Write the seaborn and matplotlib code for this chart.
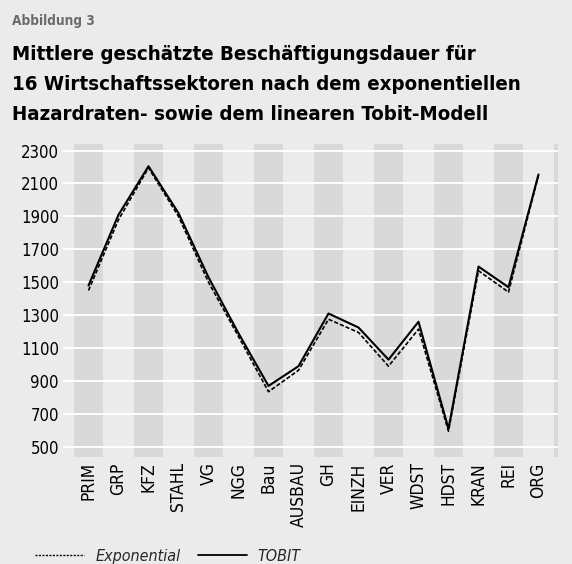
import matplotlib
matplotlib.use("Agg")
import matplotlib.pyplot as plt
import seaborn as sns
import pandas as pd
from matplotlib.lines import Line2D

sectors = ["PRIM", "GRP", "KFZ", "STAHL", "VG", "NGG", "Bau", "AUSBAU",
           "GH", "EINZH", "VER", "WDST", "HDST", "KRAN", "REI", "ORG"]
tobit = [1480, 1910, 2205, 1920, 1530, 1190, 870, 990,
         1310, 1225, 1030, 1260, 610, 1595, 1470, 2155]
exponential = [1450, 1880, 2195, 1900, 1500, 1170, 835, 965,
               1275, 1195, 990, 1215, 595, 1570, 1440, 2150]
y_ticks = [500, 700, 900, 1100, 1300, 1500, 1700, 1900, 2100, 2300]

BG = "#ebebeb"
BAND = "#d9d9d9"

sns.set_style("white", {"axes.facecolor": BG, "figure.facecolor": BG})
plt.rcParams["font.family"] = ["DejaVu Sans"]
plt.rcParams["font.stretch"] = "condensed"

W, H = 572, 564
fig = plt.figure(figsize=(W / 100, H / 100), dpi=100)
fig.patch.set_facecolor(BG)
ax = fig.add_axes([63 / W, 1 - 456.7 / H, (558 - 63) / W, (456.7 - 144) / H])
ax.set_facecolor(BG)

df = pd.DataFrame({
    "pos": list(range(len(sectors))) * 2,
    "value": tobit + exponential,
    "Modell": ["TOBIT"] * len(sectors) + ["Exponential"] * len(sectors),
})

for i in range(0, len(sectors) + 1, 2):
    ax.axvspan(i - 0.485, i + 0.485, color=BAND, lw=0, zorder=0)

for yt in y_ticks:
    ax.axhline(yt, color="white", lw=1.4, zorder=1)

sns.lineplot(data=df[df.Modell == "Exponential"], x="pos", y="value", ax=ax,
             color="black", lw=1.2, linestyle=(0, (2.5, 1.2)), zorder=3,
             legend=False)
sns.lineplot(data=df[df.Modell == "TOBIT"], x="pos", y="value", ax=ax,
             color="black", lw=1.5, zorder=4, legend=False)

ax.set_xlim(-0.85, 15.65)
ax.set_ylim(440, 2340)
ax.set_yticks(y_ticks)
ax.set_yticklabels([str(v) for v in y_ticks], fontsize=12)
ax.set_xticks(range(len(sectors)))
ax.set_xticklabels(sectors, rotation=90, fontsize=12.5)
ax.tick_params(axis="y", length=0, pad=3, colors="black")
ax.tick_params(axis="x", length=0, pad=4, colors="black")
ax.set_xlabel("")
ax.set_ylabel("")
for s in ax.spines.values():
    s.set_visible(False)

fig.text(12 / W, 1 - 25 / H, "Abbildung 3", fontsize=9.8, fontweight="bold",
         color="#6b6b6b", va="baseline", ha="left")
title_lines = ["Mittlere geschätzte Beschäftigungsdauer für",
               "16 Wirtschaftssektoren nach dem exponentiellen",
               "Hazardraten- sowie dem linearen Tobit-Modell"]
for k, line in enumerate(title_lines):
    fig.text(12 / W, 1 - (60 + 30 * k) / H, line, fontsize=14.7,
             fontweight="bold", color="black", va="baseline", ha="left")

handles = [Line2D([], [], color="black", lw=1.0, linestyle=(0, (1.5, 1))),
           Line2D([], [], color="black", lw=1.3)]
fig.legend(handles, ["Exponential", "TOBIT"], loc="lower left",
           bbox_to_anchor=(21 / W, -14 / H), ncol=2, frameon=False,
           prop={"size": 11.5, "style": "italic"}, handlelength=3.05,
           handletextpad=0.69, columnspacing=1.1)

fig.savefig("out.png", dpi=100, facecolor=BG)
